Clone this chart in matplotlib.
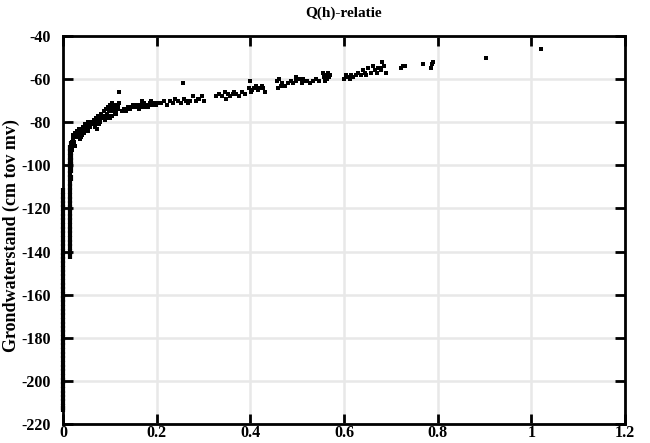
import matplotlib
matplotlib.use("Agg")
import matplotlib.pyplot as plt

# Afvoer (Q) en grondwaterstand (h) per meting
q_col0 = [0.000, 0.001, 0.000, 0.001, 0.000, 0.001, 0.000, 0.001, 0.000, 0.001,
          0.000, 0.001, 0.000, 0.001, 0.000, 0.001, 0.000, 0.001, 0.000, 0.001,
          0.000, 0.001, 0.000, 0.001, 0.000, 0.001, 0.000, 0.001, 0.000, 0.001,
          0.000, 0.001, 0.000, 0.001, 0.000, 0.001, 0.000, 0.001, 0.000, 0.001,
          0.000, 0.001, 0.000, 0.001, 0.000, 0.001, 0.000, 0.001, 0.000, 0.001,
          0.000, 0.001]
h_col0 = [-112, -114, -116, -118, -120, -122, -124, -126, -128, -130,
          -132, -134, -136, -138, -140, -142, -144, -146, -148, -150,
          -152, -154, -156, -158, -160, -162, -164, -166, -168, -170,
          -172, -174, -176, -178, -180, -182, -184, -186, -188, -190,
          -192, -194, -196, -198, -200, -202, -204, -206, -208, -210,
          -212, -213]

q_col1 = [0.014, 0.015, 0.014, 0.015, 0.014, 0.015, 0.014, 0.015, 0.014, 0.015,
          0.014, 0.015, 0.014, 0.015, 0.014, 0.015, 0.014, 0.015, 0.014, 0.015,
          0.014, 0.015, 0.014, 0.015, 0.014, 0.015, 0.017, 0.018, 0.017, 0.018,
          0.017, 0.018, 0.017, 0.018]
h_col1 = [-142, -140, -138, -136, -134, -132, -130, -128, -126, -124,
          -122, -120, -118, -116, -114, -112, -110, -108, -106, -104,
          -102, -100, -98, -96, -94, -92, -106, -102, -98, -96,
          -94, -92, -90, -100]

q_bulk = [0.018, 0.019, 0.021, 0.022, 0.024, 0.020, 0.021, 0.023, 0.026, 0.028,
          0.025, 0.029, 0.030, 0.033, 0.035, 0.038, 0.040, 0.042, 0.036, 0.039,
          0.044, 0.046, 0.048, 0.050, 0.052, 0.054, 0.045, 0.049, 0.053, 0.056,
          0.058, 0.060, 0.062, 0.066, 0.068, 0.070, 0.072, 0.074, 0.076, 0.078,
          0.080, 0.082, 0.069, 0.073, 0.077, 0.081, 0.084, 0.088, 0.090, 0.092,
          0.094, 0.096, 0.098, 0.089, 0.093, 0.097, 0.100, 0.102, 0.104, 0.106,
          0.108, 0.110, 0.112, 0.101, 0.105, 0.109, 0.114, 0.116, 0.118, 0.120,
          0.113, 0.117, 0.120, 0.126, 0.130, 0.134, 0.138, 0.142, 0.146, 0.150,
          0.154, 0.158, 0.162, 0.166, 0.170, 0.174, 0.178, 0.182, 0.186, 0.190,
          0.194, 0.198, 0.202, 0.168, 0.176, 0.188, 0.196]
h_bulk = [-91, -89, -88, -90, -87, -93, -86, -89, -85, -87,
          -91, -84, -86, -85, -83, -84, -86, -82, -88, -87,
          -82, -84, -81, -83, -82, -80, -85, -83, -84, -81,
          -82, -80, -81, -79, -81, -78, -80, -77, -79, -78,
          -80, -77, -82, -83, -81, -76, -78, -75, -77, -74,
          -76, -73, -75, -79, -78, -77, -72, -74, -71, -75,
          -73, -76, -74, -78, -77, -72, -75, -73, -74, -66,
          -76, -72, -71, -75, -74, -75, -73, -74, -73, -72,
          -73, -72, -74, -72, -73, -71, -72, -73, -71, -72,
          -71, -72, -71, -70, -73, -70, -72]

q_mid = [0.210, 0.216, 0.222, 0.228, 0.234, 0.240, 0.246, 0.252, 0.258, 0.262,
         0.266, 0.256, 0.272, 0.278, 0.284, 0.290, 0.296, 0.302, 0.288, 0.327,
         0.334, 0.340, 0.346, 0.352, 0.356, 0.362, 0.366, 0.370, 0.376, 0.382,
         0.388, 0.348, 0.398, 0.400, 0.402, 0.404, 0.408, 0.412, 0.416, 0.420,
         0.424, 0.428, 0.432, 0.458, 0.460, 0.462, 0.466, 0.468, 0.474, 0.480,
         0.486, 0.492, 0.498, 0.504, 0.510, 0.516, 0.522, 0.528, 0.534, 0.540,
         0.546, 0.498, 0.512, 0.556, 0.558, 0.560, 0.562, 0.564, 0.566, 0.568,
         0.570]
h_mid = [-71, -70, -72, -70, -71, -69, -70, -71, -69, -70,
         -71, -62, -70, -68, -70, -69, -68, -70, -69, -68,
         -67, -68, -66, -67, -68, -67, -66, -67, -68, -66,
         -67, -69, -64, -61, -66, -65, -64, -63, -65, -64,
         -63, -64, -66, -61, -64, -60, -63, -62, -63, -62,
         -61, -62, -61, -60, -62, -61, -61, -62, -61, -60,
         -61, -59, -60, -57, -59, -61, -58, -60, -57, -59,
         -58]

q_high = [0.600, 0.604, 0.608, 0.612, 0.616, 0.620, 0.626, 0.630, 0.636, 0.640,
          0.644, 0.648, 0.652, 0.658, 0.662, 0.666, 0.670, 0.676, 0.680, 0.686,
          0.690, 0.682, 0.672, 0.722, 0.726, 0.730, 0.768, 0.786, 0.788, 0.790,
          0.903, 1.020]
h_high = [-60, -58, -59, -60, -58, -59, -58, -57, -58, -56,
          -57, -58, -55, -57, -54, -56, -57, -55, -56, -54,
          -57, -52, -55, -55, -54, -54, -53, -55, -53, -52,
          -50, -46]

column_q = [q_col0, q_col1]
column_h = [h_col0, h_col1]
scatter_q = [q_bulk, q_mid, q_high]
scatter_h = [h_bulk, h_mid, h_high]

x_ticks = [0, 0.2, 0.4, 0.6, 0.8, 1.0, 1.2]
x_labels = ["0", "0.2", "0.4", "0.6", "0.8", "1", "1.2"]
y_ticks = [-220, -200, -180, -160, -140, -120, -100, -80, -60, -40]

plt.rcParams["font.family"] = ["Liberation Serif", "DejaVu Serif"]
plt.rcParams["font.weight"] = "bold"
plt.rcParams["axes.unicode_minus"] = False

fig = plt.figure(figsize=(6.5, 4.43), dpi=100)
ax = fig.add_axes([63 / 650, 1 - 424 / 443, (625 - 63) / 650, (424 - 36) / 443])

# dense runs of low-flow readings: short vertical strokes
for qs, hs in zip(column_q, column_h):
    ax.plot(qs, hs, linestyle="none", marker="|", markersize=5,
            markeredgewidth=3.0, color="#000000", clip_on=False, zorder=3)

for qs, hs in zip(scatter_q, scatter_h):
    ax.plot(qs, hs, linestyle="none", marker="s", markersize=2.4,
            color="#000000", markeredgewidth=0, clip_on=False, zorder=3)

ax.set_xlim(0, 1.2)
ax.set_ylim(-220, -40)
ax.set_xticks(x_ticks)
ax.set_xticklabels(x_labels)
ax.set_yticks(y_ticks)
ax.grid(True, color="#e8e8e8", linewidth=1.8)
ax.set_axisbelow(True)

for side in ax.spines.values():
    side.set_linewidth(2)
ax.tick_params(direction="in", length=7, width=2, top=True, right=True,
               labelsize=11.5)
ax.tick_params(axis="x", pad=1)
ax.tick_params(axis="y", pad=9)
for lab in ax.get_xticklabels() + ax.get_yticklabels():
    lab.set_fontweight("bold")

ax.set_title("Q(h)-relatie", fontsize=11, fontweight="bold", pad=14)
ax.set_ylabel("Grondwaterstand (cm tov mv)", fontsize=13, fontweight="bold")
ax.yaxis.set_label_coords(-0.077, 0.485)

fig.savefig("out.png", dpi=100)
